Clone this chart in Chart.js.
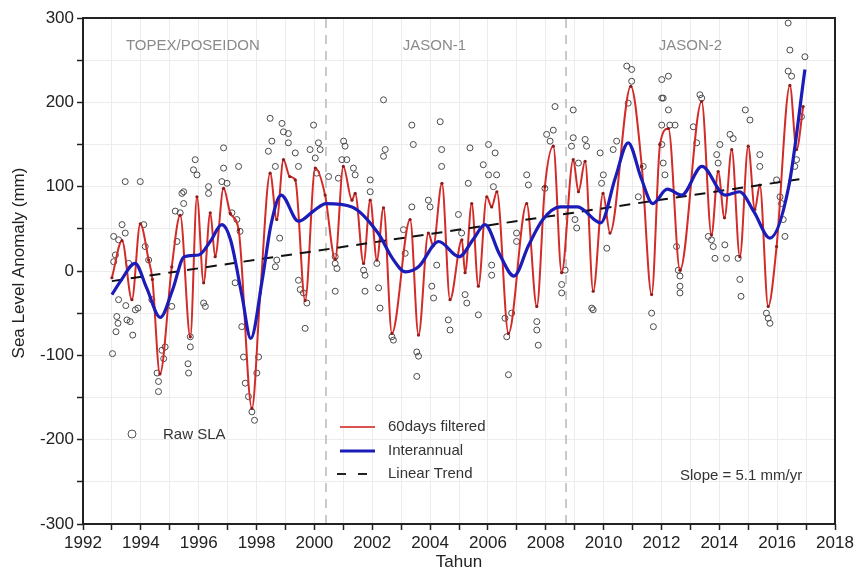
<!DOCTYPE html>
<html>
<head>
<meta charset="utf-8">
<script src="https://cdn.jsdelivr.net/npm/chart.js@4.4.0/dist/chart.umd.min.js"></script>
<style>
  body { margin: 0; background: #fff; }
</style>
</head>
<body>
<canvas id="slaChart" width="857" height="571"></canvas>
<script>
// ---- data ----
var rawYears = [
  1993.46, 1993.98, 1993.02, 1993.14, 1993.17, 1993.21, 1993.52, 1993.63, 1993.72, 1993.81,
  1993.90, 1993.23, 1993.48, 1993.06, 1993.12, 1993.06, 1993.23, 1993.35, 1993.46, 1993.58,
  1994.10, 1994.15, 1994.27, 1994.38, 1994.56, 1994.61, 1994.61, 1994.73, 1994.84, 1994.79,
  1995.07, 1995.25, 1995.36, 1995.42, 1995.48, 1995.19, 1995.48, 1995.88, 1995.82, 1995.94,
  1995.71, 1995.71, 1995.63, 1995.65, 1996.17, 1996.23, 1996.34, 1996.34, 1996.86, 1996.86,
  1996.80, 1996.98, 1997.38, 1997.15, 1997.32, 1997.43, 1997.26, 1997.49, 1997.55, 1997.61,
  1997.72, 1997.84, 1997.93, 1998.07, 1998.01, 1998.41, 1998.47, 1998.53, 1998.65, 1998.88,
  1998.70, 1998.65, 1998.80, 1998.93, 1999.10, 1999.34, 1999.10, 1999.45, 1999.97, 1999.85,
  2000.03, 2000.14, 2000.20, 2000.08, 2000.49, 1999.45, 1999.51, 1999.62, 1999.74, 1999.68,
  2000.72, 2000.72, 2000.78, 2000.72, 2001.01, 2001.06, 2001.12, 2000.95, 2001.35, 2001.41,
  2000.83, 2001.70, 2001.75, 2001.75, 2001.93, 2001.93, 2002.39, 2002.45, 2002.39, 2002.16,
  2002.22, 2002.27, 2002.68, 2002.73, 2003.08, 2003.14, 2003.37, 2003.42, 2003.37, 2003.54,
  2003.60, 2003.54, 2003.94, 2004.00, 2004.06, 2004.12, 2004.35, 2004.40, 2004.40, 2004.23,
  2004.63, 2004.69, 2005.09, 2004.98, 2005.21, 2005.27, 2005.38, 2005.32, 2006.02, 2006.25,
  2005.84, 2006.02, 2006.30, 2006.19, 2005.67, 2006.13, 2006.13, 2006.59, 2006.65, 2006.71,
  2006.82, 2006.99, 2006.99, 2007.34, 2007.40, 2007.69, 2007.69, 2007.74, 2008.03, 2008.26,
  2008.32, 2008.15, 2007.97, 2008.55, 2008.55, 2008.67, 2008.95, 2008.95, 2008.89, 2009.36,
  2009.41, 2009.13, 2009.01, 2009.07, 2009.59, 2009.64, 2009.99, 2009.88, 2009.93, 2010.11,
  2010.33, 2010.45, 2010.80, 2010.97, 2010.97, 2010.85, 2011.37, 2011.20, 2011.66, 2011.72,
  2012.01, 2012.01, 2012.01, 2012.24, 2012.06, 2012.24, 2012.29, 2012.47, 2012.01, 2012.06,
  2012.12, 2012.52, 2012.58, 2012.64, 2012.64, 2012.64, 2013.33, 2013.39, 2013.10, 2013.22,
  2013.62, 2013.73, 2013.79, 2013.91, 2014.02, 2013.96, 2013.85, 2014.19, 2014.25, 2014.37,
  2014.48, 2014.71, 2014.75, 2014.65, 2014.90, 2015.06, 2015.40, 2015.40, 2015.63, 2015.69,
  2015.75, 2015.98, 2016.10, 2016.21, 2016.27, 2016.38, 2016.44, 2016.38, 2016.50, 2016.61,
  2016.67, 2016.96, 2016.84, 2016.15
];
var rawValues = [
  106, 106, -98, -72, -54, -62, -58, -60, -76, -46,
  -44, -34, -41, 41, 19, 11, 37, 55, 45, 9,
  55, 29, 13, -34, -121, -143, -131, -94, -90, -104,
  -42, 35, 69, 92, 94, 71, 80, 132, 120, 114,
  -78, -90, -110, -121, -38, -42, 100, 92, 146, 122,
  106, 104, 124, 69, 61, 47, -14, -66, -102, -133,
  -149, -167, -177, -102, -121, 142, 181, 154, 124, 175,
  13, 5, 39, 165, 152, 140, 163, 124, 173, 144,
  134, 152, 144, 116, 112, -11, -22, -26, -38, -68,
  17, 9, 3, -24, 154, 148, 132, 132, 122, 114,
  110, 1, -5, -24, 108, 94, 203, 144, 136, 9,
  -20, -44, -78, -82, 49, 21, 173, 150, 76, -96,
  -101, -125, 84, 76, -18, -32, 177, 144, 124, 7,
  -58, -70, 45, 67, -28, -38, 146, 104, 150, 140,
  126, 114, 114, 100, -52, 7, -5, -56, -78, -123,
  -50, 45, 35, 114, 102, -60, -70, -88, 162, 167,
  195, 154, 98, -16, -26, 1, 191, 158, 148, 156,
  148, 128, 61, 51, -44, -46, 114, 140, 104, 27,
  144, 154, 243, 239, 225, 199, 124, 88, -50, -66,
  227, 205, 173, 231, 205, 191, 173, 173, 150, 128,
  114, 29, 1, -6, -18, -26, 209, 205, 171, 152,
  41, 37, 29, 138, 150, 128, 15, 31, 15, 162,
  157, -10, -30, 15, 191, 179, 138, 124, -50, -56,
  -62, 108, 88, 61, 41, 294, 262, 237, 231, 124,
  132, 254, 183, 80
];

var filteredYears = [
  1993.00, 1993.35, 1993.69, 1993.98, 1994.27, 1994.40, 1994.66, 1995.07, 1995.36, 1995.71,
  1995.94, 1996.17, 1996.40, 1996.57, 1996.86, 1997.10, 1997.38, 1997.84, 1998.13, 1998.47,
  1998.70, 1998.93, 1999.15, 1999.34, 1999.68, 2000.03, 2000.37, 2000.72, 2001.00, 2001.30,
  2001.41, 2001.70, 2001.93, 2002.16, 2002.39, 2002.68, 2003.31, 2003.60, 2003.94, 2004.11,
  2004.41, 2004.69, 2005.10, 2005.21, 2005.44, 2005.67, 2005.96, 2006.13, 2006.31, 2006.71,
  2007.34, 2007.69, 2007.97, 2008.26, 2008.55, 2008.95, 2009.13, 2009.36, 2009.64, 2009.98,
  2010.22, 2010.94, 2011.32, 2011.66, 2011.95, 2012.24, 2012.64, 2013.39, 2013.73, 2013.96,
  2014.18, 2014.43, 2014.71, 2015.00, 2015.23, 2015.40, 2015.69, 2015.98, 2016.44, 2016.67,
  2016.90
];
var filteredValues = [
  -8, 36, -34, 56, 13, -10, -122, 5, 66, -78,
  88, -14, 69, 17, 98, 68, 49, -163, -26, 116,
  61, 132, 112, 108, -35, 122, 90, 14, 124, 84,
  92, 9, 84, 13, 75, -74, 61, -76, 45, 30,
  104, -34, 37, -2, 80, -18, 88, 76, 94, -74,
  80, -42, 100, 148, -2, 132, 94, 130, -24, 92,
  45, 219, 124, -28, 150, 169, 1, 201, 43, 118,
  63, 144, 17, 148, 73, 102, -42, 29, 220, 144,
  195
];

var interannualYears = [
  1993.0, 1993.3, 1993.8, 1994.2, 1994.67, 1995.1, 1995.5, 1996.0, 1996.4, 1996.8,
  1997.1, 1997.5, 1997.8, 1998.2, 1998.5, 1998.85, 1999.45, 2000.0, 2000.4, 2001.3,
  2002.2, 2002.7, 2003.15, 2003.6, 2004.3, 2005.0, 2005.5, 2005.9, 2006.4, 2006.9,
  2007.4, 2007.9, 2008.5, 2009.1, 2009.9, 2010.4, 2010.85, 2011.3, 2011.7, 2012.2,
  2012.7, 2013.4, 2014.2, 2014.7, 2015.2, 2015.75, 2016.4, 2016.96
];
var interannualValues = [
  -28, -12, 9, -20, -55, -22, 17, 19, 35, 55,
  37, -30, -80, -10, 55, 90, 59, 72, 80, 76,
  45, 15, -1, 5, 35, 17, 38, 55, 20, -6,
  30, 61, 76, 76, 57, 110, 152, 110, 80, 97,
  90, 124, 90, 94, 70, 39, 100, 239
];

var trendYears = [1993, 2017];
var trendValues = [-12, 110];

var missionSwitchYears = [2000.4, 2008.7];
var missionNames = ['TOPEX/POSEIDON', 'JASON-1', 'JASON-2'];
var missionLabelYears = [1995.8, 2004.15, 2013.0];

var xTicks = { min: 1992, max: 2018, step: 1 };
var yTicks = { min: -300, max: 300, step: 50 };

// ---- helpers ----
function toPoints(xs, ys) {
    return xs.map(function (x, i) { return { x: x, y: ys[i] }; });
}

var FONT = "'Liberation Sans', Arial, sans-serif";

var datasets = [];

// mission change lines (grey dashed verticals)
missionSwitchYears.forEach(function (yr) {
    datasets.push({
        type: 'line',
        data: [{ x: yr, y: yTicks.min }, { x: yr, y: yTicks.max }],
        borderColor: '#b8b8b8',
        borderWidth: 1.5,
        borderDash: [9, 7],
        pointRadius: 0,
        order: 10
    });
});

datasets.push({
    label: 'Raw SLA',
    type: 'scatter',
    data: toPoints(rawYears, rawValues),
    showLine: false,
    pointRadius: 3,
    pointBorderWidth: 1,
    pointBorderColor: '#4a4a4a',
    pointBackgroundColor: 'rgba(0,0,0,0)',
    order: 5
});

datasets.push({
    label: '60days filtered',
    type: 'line',
    data: toPoints(filteredYears, filteredValues),
    borderColor: '#d22b28',
    borderWidth: 2,
    cubicInterpolationMode: 'monotone',
    pointRadius: 1.6,
    pointBorderWidth: 0,
    pointBackgroundColor: '#8e1c1c',
    order: 4
});

datasets.push({
    label: 'Linear Trend',
    type: 'line',
    data: toPoints(trendYears, trendValues),
    borderColor: '#111',
    borderWidth: 2,
    borderDash: [11, 8],
    pointRadius: 0,
    order: 3
});

datasets.push({
    label: 'Interannual',
    type: 'line',
    data: toPoints(interannualYears, interannualValues),
    borderColor: '#1c1cb8',
    borderWidth: 3.2,
    cubicInterpolationMode: 'monotone',
    pointRadius: 0,
    order: 2
});

// labels, legend, frame
var decorPlugin = {
    id: 'decor',
    beforeDatasetsDraw: function (chart) {
        var c = chart.ctx, xs = chart.scales.x, ys = chart.scales.y;
        c.save();
        c.font = '15px ' + FONT;
        c.fillStyle = '#8a8a8a';
        c.textAlign = 'center';
        c.textBaseline = 'middle';
        missionNames.forEach(function (name, i) {
            c.fillText(name, xs.getPixelForValue(missionLabelYears[i]), ys.getPixelForValue(267));
        });
        c.restore();
    },
    afterDraw: function (chart) {
        var c = chart.ctx, a = chart.chartArea;
        c.save();
        // frame
        c.strokeStyle = '#222';
        c.lineWidth = 2;
        c.strokeRect(a.left, a.top, a.right - a.left, a.bottom - a.top);

        // axis titles
        c.fillStyle = '#222';
        c.font = '17px ' + FONT;
        c.textAlign = 'center';
        c.textBaseline = 'middle';
        c.fillText('Tahun', (a.left + a.right) / 2, 562);
        c.save();
        c.translate(19, 263);
        c.rotate(-Math.PI / 2);
        c.fillText('Sea Level Anomaly (mm)', 0, 0);
        c.restore();

        // legend
        c.font = '15px ' + FONT;
        c.textAlign = 'left';
        c.fillStyle = '#333';
        c.beginPath();
        c.arc(132, 434, 4, 0, Math.PI * 2);
        c.strokeStyle = '#555';
        c.lineWidth = 1;
        c.stroke();
        c.fillText('Raw SLA', 163, 435);

        c.lineWidth = 2;
        c.strokeStyle = '#d9534f';
        c.beginPath(); c.moveTo(340, 427); c.lineTo(375, 427); c.stroke();
        c.fillText('60days filtered', 388, 427);

        c.lineWidth = 3;
        c.strokeStyle = '#1c1cb8';
        c.beginPath(); c.moveTo(340, 451); c.lineTo(375, 451); c.stroke();
        c.fillText('Interannual', 388, 451);

        c.lineWidth = 2;
        c.strokeStyle = '#222';
        c.setLineDash([9, 12]);
        c.beginPath(); c.moveTo(337, 474); c.lineTo(368, 474); c.stroke();
        c.setLineDash([]);
        c.fillText('Linear Trend', 388, 474);

        c.fillText('Slope = 5.1 mm/yr', 680, 476);
        c.restore();
    }
};

var ctx = document.getElementById('slaChart').getContext('2d');
var chart = new Chart(ctx, {
    type: 'scatter',
    data: { datasets: datasets },
    options: {
        responsive: false,
        animation: false,
        layout: { padding: { top: 18, right: 22, left: 0, bottom: 0 } },
        plugins: {
            legend: { display: false },
            tooltip: { enabled: false }
        },
        scales: {
            x: {
                type: 'linear',
                min: xTicks.min,
                max: xTicks.max,
                afterFit: function (scale) { scale.height = 47; },
                ticks: {
                    stepSize: xTicks.step,
                    autoSkip: false,
                    maxRotation: 0,
                    padding: 3,
                    color: '#222',
                    font: { size: 17, family: FONT },
                    callback: function (v) { return v % 2 === 0 ? String(v) : ''; }
                },
                grid: { color: '#ececec', tickColor: '#222', tickLength: 6, tickWidth: 1.5 },
                border: { display: false }
            },
            y: {
                min: yTicks.min,
                max: yTicks.max,
                afterFit: function (scale) { scale.width = 83; },
                ticks: {
                    stepSize: yTicks.step,
                    autoSkip: false,
                    padding: 3,
                    color: '#222',
                    font: { size: 17, family: FONT },
                    callback: function (v) { return v % 100 === 0 ? String(v) : ''; }
                },
                grid: { color: '#ececec', tickColor: '#222', tickLength: 6, tickWidth: 1.5 },
                border: { display: false }
            }
        }
    },
    plugins: [decorPlugin]
});
</script>
</body>
</html>
